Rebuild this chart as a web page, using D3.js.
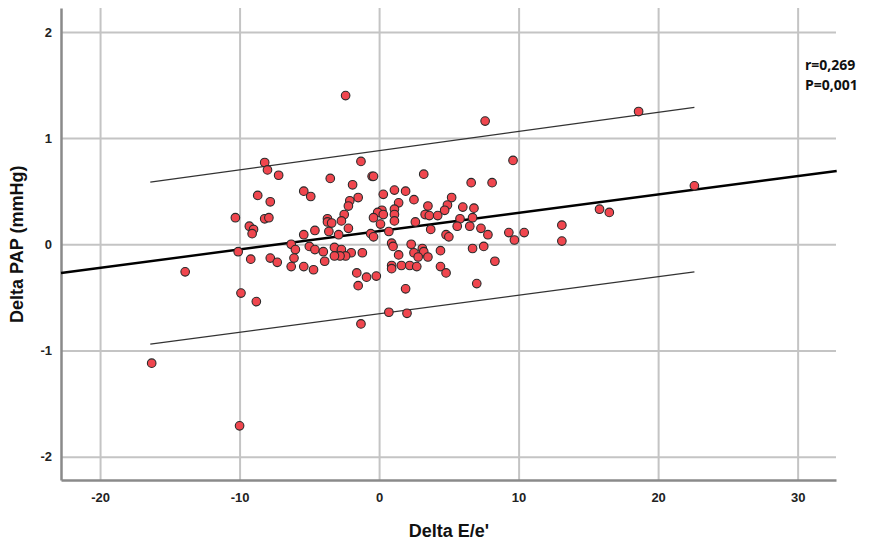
<!DOCTYPE html>
<html>
<head>
<meta charset="utf-8">
<script src="https://cdn.jsdelivr.net/npm/d3@7"></script>
<style>
  body { margin: 0; background: #fff; }
  svg text { font-family: "Liberation Sans", Arial, sans-serif; }
</style>
</head>
<body>
<div id="root"></div>
<script>
// Delta E/e' (x) vs Delta PAP (y)
const deltaEe = [
  -2.4, 18.6, 7.6, 9.6, -1.3, -8.2, -8.0, -7.2, -0.5, -0.4, 3.2, -3.5, 6.6, 8.1, -1.9, 22.6,
  1.1, 1.9, -5.4, 0.3, -8.7, -4.9, -1.5, 5.2, 2.5, -2.1, -7.8, 1.4, 4.9, -2.2, 3.5, 6.0,
  6.8, 1.1, 15.8, 0.2, 4.7, -0.1, 16.5, 0.3, 1.1, -2.5, 3.3, 3.6, 4.2, -10.3, -8.2, -7.9,
  -0.4, 6.7, -3.7, 5.8, 1.1, -2.7, 2.6, -3.7, -3.4, 0.1, 13.1, -9.3, 5.6, 6.5, -2.2, 7.3,
  -9.0, 3.7, -4.6, 0.7, -3.6, 9.3, 10.4, -9.1, -0.6, -5.4, -2.9, 4.8, 7.8, -0.4, 5.0, 9.7,
  13.1, -6.3, 0.9, 2.3, -5.0, 1.0, 7.5, -3.2, -6.0, -4.6, -2.7, 3.1, 6.7, 4.4, -4.0, -10.1,
  3.2, 2.5, -1.2, -2.0, 1.4, -2.4, -2.8, -3.2, 2.8, 3.5, -7.8, -6.1, -9.2, -3.9, 8.3, -7.3,
  0.9, 1.6, 2.2, -6.3, -5.4, 2.7, 4.4, 0.9, -4.7, -13.9, -1.6, 4.8, -0.2, -0.9, 7.0, -1.5,
  1.9, -9.9, -8.8, 0.7, 2.0, -1.3, -16.3, -10.0
];
const deltaPAP = [
  1.40, 1.25, 1.16, 0.79, 0.78, 0.77, 0.70, 0.65, 0.64, 0.64, 0.66, 0.62, 0.58, 0.58, 0.56, 0.55,
  0.51, 0.50, 0.50, 0.47, 0.46, 0.45, 0.44, 0.44, 0.42, 0.41, 0.40, 0.39, 0.37, 0.36, 0.36, 0.35,
  0.34, 0.33, 0.33, 0.32, 0.32, 0.30, 0.30, 0.28, 0.28, 0.28, 0.28, 0.27, 0.27, 0.25, 0.24, 0.25,
  0.25, 0.25, 0.24, 0.24, 0.22, 0.22, 0.21, 0.21, 0.20, 0.19, 0.18, 0.17, 0.17, 0.17, 0.15, 0.15,
  0.14, 0.14, 0.13, 0.12, 0.12, 0.11, 0.11, 0.10, 0.10, 0.09, 0.09, 0.09, 0.09, 0.07, 0.07, 0.04,
  0.03, 0.00, 0.01, 0.00, -0.02, -0.02, -0.02, -0.03, -0.05, -0.05, -0.05, -0.04, -0.04, -0.06, -0.07, -0.07,
  -0.07, -0.08, -0.08, -0.08, -0.10, -0.11, -0.11, -0.11, -0.12, -0.12, -0.13, -0.13, -0.14, -0.16, -0.16, -0.17,
  -0.20, -0.20, -0.20, -0.21, -0.21, -0.21, -0.21, -0.23, -0.24, -0.26, -0.27, -0.27, -0.30, -0.31, -0.37, -0.39,
  -0.42, -0.46, -0.54, -0.64, -0.65, -0.75, -1.12, -1.71
];

// regression line and 95% prediction interval lines (end points)
const fitLine = [[-22.8, -0.27], [32.8, 0.69]];
const upperLine = [[-16.4, 0.585], [22.6, 1.29]];
const lowerLine = [[-16.4, -0.94], [22.6, -0.26]];

const xTicks = [-20, -10, 0, 10, 20, 30];
const yTicks = [-2, -1, 0, 1, 2];
const statLabels = ["r=0,269", "P=0,001"];

const outerWidth = 869;
const outerHeight = 542;
const margin = { top: 8, right: 33, bottom: 62, left: 61 };
const width = outerWidth - margin.left - margin.right;
const height = outerHeight - margin.top - margin.bottom;

let scaleX = d3.scaleLinear().domain([-22.8, 32.75]).range([0, width]);
let scaleY = d3.scaleLinear().domain([-2.22, 2.225]).range([height, 0]);

let svg = d3.select("#root")
            .append("svg")
            .attr("width", outerWidth)
            .attr("height", outerHeight);

let chart = svg.append("g")
               .attr("transform", `translate(${margin.left}, ${margin.top})`);

// grid
chart.append("g")
    .attr("class", "x grid")
    .attr("transform", `translate(0, ${height})`)
    .call(d3.axisBottom(scaleX).tickValues(xTicks).tickSize(-height).tickFormat(""))
    .call(g => g.select(".domain").remove())
    .call(g => g.selectAll("line").attr("stroke", "#c4c4c4").attr("stroke-width", 2));

chart.append("g")
    .attr("class", "y grid")
    .call(d3.axisLeft(scaleY).tickValues(yTicks).tickSize(-width).tickFormat(""))
    .call(g => g.select(".domain").remove())
    .call(g => g.selectAll("line").attr("stroke", "#c4c4c4").attr("stroke-width", 2));

// axes (plain hyphen for minus, as in the original)
let tickFmt = d => String(d);

let xAxis = chart.append("g")
    .attr("class", "x axis")
    .attr("transform", `translate(0, ${height})`)
    .call(d3.axisBottom(scaleX).tickValues(xTicks).tickSize(0).tickPadding(9).tickFormat(tickFmt));

let yAxis = chart.append("g")
    .attr("class", "y axis")
    .call(d3.axisLeft(scaleY).tickValues(yTicks).tickSize(0).tickPadding(9).tickFormat(tickFmt));

[xAxis, yAxis].forEach(ax => {
    ax.select(".domain").attr("stroke", "#8a8a8a").attr("stroke-width", 2.5);
    ax.selectAll("text")
      .style("font-size", "13px")
      .style("font-weight", "bold")
      .attr("fill", "#222");
});
xAxis.selectAll("text").attr("dy", "1em");

// lines
let line = d3.line().x(d => scaleX(d[0])).y(d => scaleY(d[1]));

chart.append("path")
    .datum(upperLine)
    .attr("d", line)
    .attr("fill", "none")
    .attr("stroke", "#333")
    .attr("stroke-width", 1.3);

chart.append("path")
    .datum(lowerLine)
    .attr("d", line)
    .attr("fill", "none")
    .attr("stroke", "#333")
    .attr("stroke-width", 1.3);

chart.append("path")
    .datum(fitLine)
    .attr("d", line)
    .attr("fill", "none")
    .attr("stroke", "#000")
    .attr("stroke-width", 2.4);

// points
chart.selectAll(".dot")
    .data(d3.zip(deltaEe, deltaPAP))
    .enter().append("circle")
    .attr("class", "dot")
    .attr("cx", d => scaleX(d[0]))
    .attr("cy", d => scaleY(d[1]))
    .attr("r", 4.3)
    .attr("fill", "#f0464e")
    .attr("stroke", "#2a2a2a")
    .attr("stroke-width", 1.1);

// stats
svg.selectAll(".stat")
    .data(statLabels)
    .enter().append("text")
    .attr("class", "stat")
    .attr("x", 805)
    .attr("y", (d, i) => 70 + i * 20)
    .style("font-family", "'Open Sans', 'Noto Sans', sans-serif")
    .style("font-size", "14px")
    .style("font-weight", "bold")
    .attr("fill", "#111")
    .text(d => d);

// axis titles
svg.append("text")
    .attr("x", 449)
    .attr("y", 537)
    .style("text-anchor", "middle")
    .style("font-size", "18px")
    .style("font-weight", "bold")
    .attr("fill", "#111")
    .text("Delta E/e'");

svg.append("text")
    .attr("transform", `translate(23, ${margin.top + scaleY(0)}) rotate(-90)`)
    .style("text-anchor", "middle")
    .style("font-size", "18px")
    .style("font-weight", "bold")
    .attr("fill", "#111")
    .text("Delta PAP (mmHg)");
</script>
</body>
</html>
